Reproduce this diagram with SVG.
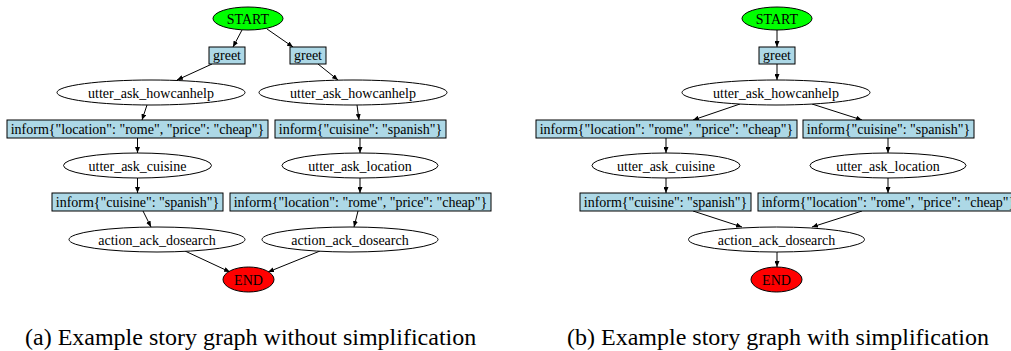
<svg xmlns="http://www.w3.org/2000/svg" width="1011" height="351" viewBox="0 0 1011 351">
<defs>
<marker id="ah" markerWidth="6" markerHeight="5" refX="6" refY="2.5" orient="auto" markerUnits="userSpaceOnUse"><path d="M0,0 L6,2.5 L0,5 z" fill="#000"/></marker>
<style>
text{font-family:"Liberation Serif","Times New Roman",serif;font-size:14px;text-anchor:middle;fill:#000}
.cap{font-size:24px;text-anchor:start}
.el{fill:#fff;stroke:#000;stroke-width:1}
.box{fill:#add8e6;stroke:#000;stroke-width:1}
.start{fill:#00ff00;stroke:#000;stroke-width:1}
.end{fill:#ff0000;stroke:#000;stroke-width:1}
#edges line{stroke:#000;stroke-width:1;marker-end:url(#ah)}
</style>
</defs>
<rect width="1011" height="351" fill="#fff"/>
<g id="edges">
<line x1="242" y1="30" x2="233" y2="47"/>
<line x1="267" y1="29" x2="293" y2="47"/>
<line x1="212" y1="64" x2="177" y2="80"/>
<line x1="318" y1="64" x2="338" y2="80"/>
<line x1="147" y1="105" x2="142" y2="120"/>
<line x1="357" y1="105" x2="359" y2="120"/>
<line x1="137.5" y1="138" x2="137.5" y2="153"/>
<line x1="360" y1="138" x2="360" y2="153"/>
<line x1="137.5" y1="178" x2="137.5" y2="193"/>
<line x1="360" y1="178" x2="360" y2="193"/>
<line x1="143" y1="211" x2="151" y2="227"/>
<line x1="358" y1="211" x2="354" y2="227"/>
<line x1="185" y1="251" x2="230" y2="272"/>
<line x1="320" y1="251" x2="268" y2="272"/>
<line x1="777" y1="30" x2="777" y2="47"/>
<line x1="777" y1="64" x2="777" y2="80"/>
<line x1="740" y1="104" x2="693" y2="120"/>
<line x1="812" y1="104" x2="862" y2="120"/>
<line x1="666" y1="138" x2="666" y2="153"/>
<line x1="888" y1="138" x2="888" y2="153"/>
<line x1="666" y1="178" x2="666" y2="193"/>
<line x1="888" y1="178" x2="888" y2="193"/>
<line x1="693" y1="211" x2="742" y2="227"/>
<line x1="862" y1="211" x2="812" y2="227"/>
<line x1="777" y1="252" x2="777" y2="267"/>
</g>
<g id="a_start"><ellipse class="start" cx="248" cy="18.5" rx="35" ry="11.5"/><text x="248" y="23.5">START</text></g>
<g id="a_greet1"><rect class="box" x="209" y="47" width="36" height="17"/><text x="227" y="60">greet</text></g>
<g id="a_greet2"><rect class="box" x="290" y="47" width="36" height="17"/><text x="308" y="60">greet</text></g>
<g id="a_howcan1"><ellipse class="el" cx="151" cy="92.5" rx="94" ry="12.5"/><text x="151" y="97.5">utter_ask_howcanhelp</text></g>
<g id="a_howcan2"><ellipse class="el" cx="353" cy="92.5" rx="94" ry="12.5"/><text x="353" y="97.5">utter_ask_howcanhelp</text></g>
<g id="a_infloc1"><rect class="box" x="7" y="120" width="261" height="18"/><text x="137.5" y="134">inform{"location": "rome", "price": "cheap"}</text></g>
<g id="a_infcui1"><rect class="box" x="275" y="120" width="171" height="18"/><text x="360.5" y="134">inform{"cuisine": "spanish"}</text></g>
<g id="a_askcui"><ellipse class="el" cx="137.5" cy="165.5" rx="74" ry="12.5"/><text x="137.5" y="170.5">utter_ask_cuisine</text></g>
<g id="a_askloc"><ellipse class="el" cx="360" cy="165.5" rx="78" ry="12.5"/><text x="360" y="170.5">utter_ask_location</text></g>
<g id="a_infcui2"><rect class="box" x="52" y="193" width="171" height="18"/><text x="137.5" y="207">inform{"cuisine": "spanish"}</text></g>
<g id="a_infloc2"><rect class="box" x="230" y="193" width="261" height="18"/><text x="360.5" y="207">inform{"location": "rome", "price": "cheap"}</text></g>
<g id="a_ack1"><ellipse class="el" cx="157" cy="239.5" rx="88" ry="12.5"/><text x="157" y="244.5">action_ack_dosearch</text></g>
<g id="a_ack2"><ellipse class="el" cx="350" cy="239.5" rx="88" ry="12.5"/><text x="350" y="244.5">action_ack_dosearch</text></g>
<g id="a_end"><ellipse class="end" cx="248.5" cy="279.5" rx="25.5" ry="12.5"/><text x="248.5" y="284.5">END</text></g>
<g id="b_start"><ellipse class="start" cx="777" cy="18.5" rx="35" ry="11.5"/><text x="777" y="23.5">START</text></g>
<g id="b_greet"><rect class="box" x="759" y="47" width="36" height="17"/><text x="777" y="60">greet</text></g>
<g id="b_howcan"><ellipse class="el" cx="776" cy="92.5" rx="94" ry="12.5"/><text x="776" y="97.5">utter_ask_howcanhelp</text></g>
<g id="b_infloc1"><rect class="box" x="536" y="120" width="261" height="18"/><text x="666.5" y="134">inform{"location": "rome", "price": "cheap"}</text></g>
<g id="b_infcui1"><rect class="box" x="803" y="120" width="171" height="18"/><text x="888.5" y="134">inform{"cuisine": "spanish"}</text></g>
<g id="b_askcui"><ellipse class="el" cx="666" cy="165.5" rx="74" ry="12.5"/><text x="666" y="170.5">utter_ask_cuisine</text></g>
<g id="b_askloc"><ellipse class="el" cx="888" cy="165.5" rx="78" ry="12.5"/><text x="888" y="170.5">utter_ask_location</text></g>
<g id="b_infcui2"><rect class="box" x="580" y="193" width="171" height="18"/><text x="665.5" y="207">inform{"cuisine": "spanish"}</text></g>
<g id="b_infloc2"><rect class="box" x="758" y="193" width="261" height="18"/><text x="888.5" y="207">inform{"location": "rome", "price": "cheap"}</text></g>
<g id="b_ack"><ellipse class="el" cx="776.5" cy="239.5" rx="88" ry="12.5"/><text x="776.5" y="244.5">action_ack_dosearch</text></g>
<g id="b_end"><ellipse class="end" cx="776.5" cy="279.5" rx="25.5" ry="12.5"/><text x="776.5" y="284.5">END</text></g>
<text class="cap" x="25" y="345">(a) Example story graph without simplification</text>
<text class="cap" x="567" y="345">(b) Example story graph with simplification</text>
</svg>
